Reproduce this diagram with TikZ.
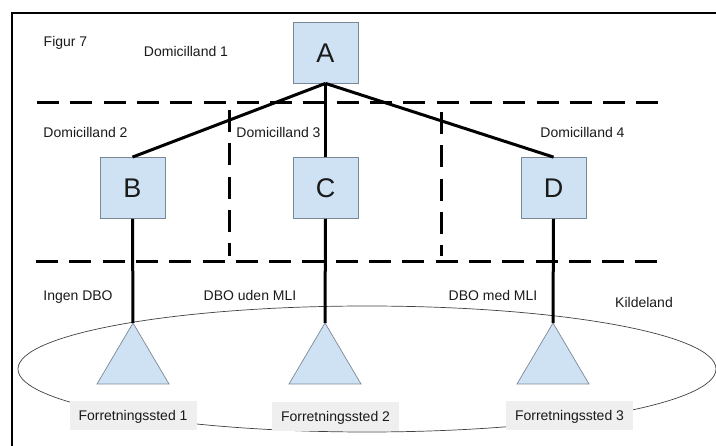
\documentclass[tikz,border=0pt]{standalone}
\usepackage{fontspec}
\setmainfont{Liberation Sans}
\definecolor{boxblue}{HTML}{CFE2F3}
\definecolor{boxedge}{HTML}{7A8896}
\definecolor{labelgray}{HTML}{EFEFEF}
\definecolor{ink}{HTML}{1A1A1A}
\begin{document}
\begin{tikzpicture}[x=1pt,y=-1pt,
  entity/.style={draw=boxedge,line width=0.8pt,fill=boxblue,minimum width=65pt,minimum height=61pt,
    inner sep=0pt,text=ink,font=\fontsize{27}{30}\selectfont,text height=19.5pt,text depth=0pt},
  site/.style={draw=boxedge,line width=0.7pt,fill=boxblue},
  place/.style={fill=labelgray,minimum width=127pt,minimum height=29pt,inner sep=0pt,text=ink,
    font=\fontsize{14}{16}\selectfont,text height=10pt,text depth=0pt},
  caption/.style={anchor=base,inner sep=0pt,text=ink,font=\fontsize{14}{16}\selectfont},
  link/.style={line width=3pt,black},
  border/.style={line width=3pt,black,dash pattern=on 22pt off 11.3pt}]
\useasboundingbox (0,0) rectangle (716,446);

% frame (top and left edges)
\draw[line width=2pt,black] (12,446) -- (12,13) -- (716,13);

% source-country ellipse
\draw[line width=0.7pt,black!75] (367,369) ellipse [x radius=349pt, y radius=63pt];

% country borders
\draw[border] (37,103) -- (659,103);
\draw[border] (36,262) -- (657,262);
\draw[border] (229,110) -- (229,256);
\draw[border] (441,112) -- (441,256);

% entities
\node[entity] (A) at (325.5,52.5) {A};
\node[entity] (B) at (132.5,188) {B};
\node[entity] (C) at (325.5,188) {C};
\node[entity] (D) at (553.5,188) {D};

% permanent establishments
\coordinate (t1) at (133,323);
\coordinate (t2) at (325,323);
\coordinate (t3) at (553,323);
\foreach \t in {t1,t2,t3}
  \draw[site] (\t) -- ++(-36,61) -- ++(72,0) -- cycle;

% ownership links
\draw[link] (A.south) -- (B.north);
\draw[link] (A.south) -- (C.north);
\draw[link] (A.south) -- (D.north);
\draw[link] (B.south) -- (t1);
\draw[link] (C.south) -- (t2);
\draw[link] (D.south) -- (t3);

% labels
\node[place] (p1) at (133,416) {Forretningssted 1};
\node[place] (p2) at (335.5,416.5) {Forretningssted 2};
\node[place] (p3) at (569.5,415.5) {Forretningssted 3};

\node[caption] (fig) at (65.5,47) {Figur 7};
\node[caption] (d1) at (186,57) {Domicilland 1};
\node[caption] (d2) at (85.5,138) {Domicilland 2};
\node[caption] (d3) at (278.5,138) {Domicilland 3};
\node[caption] (d4) at (582.5,138) {Domicilland 4};
\node[caption] (k1) at (78,301) {Ingen DBO};
\node[caption] (k2) at (250,301) {DBO uden MLI};
\node[caption] (k3) at (493,301) {DBO med MLI};
\node[caption] (k4) at (644,308) {Kildeland};
\end{tikzpicture}
\end{document}
